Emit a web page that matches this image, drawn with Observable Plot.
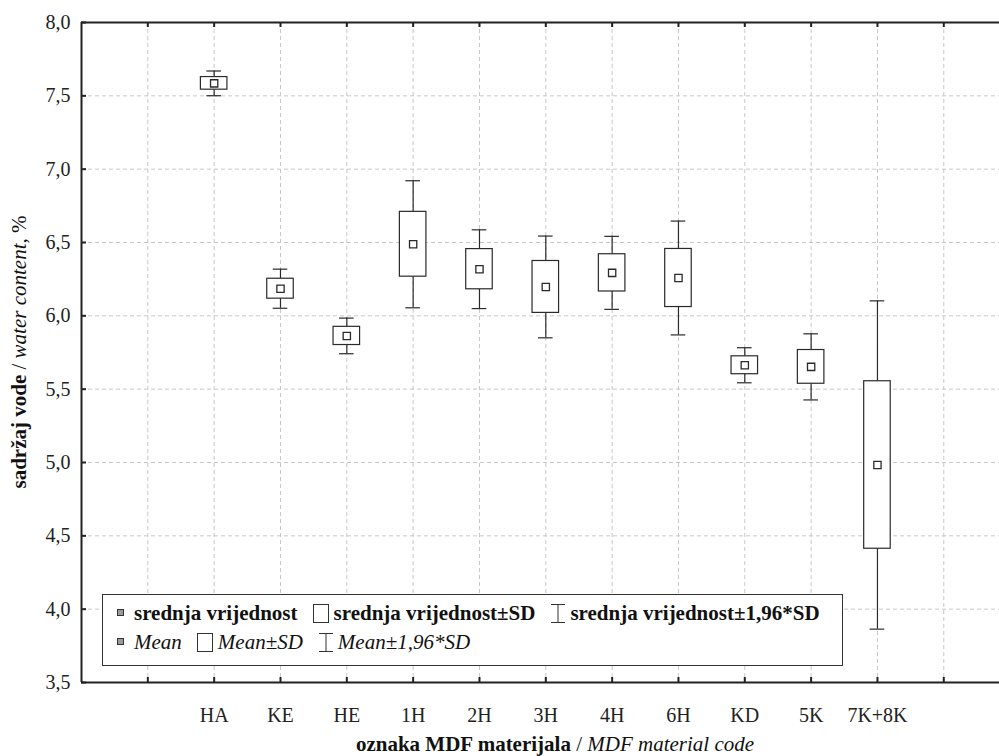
<!DOCTYPE html>
<html><head><meta charset="utf-8">
<script src="https://cdn.jsdelivr.net/npm/d3@7"></script>
<script src="https://cdn.jsdelivr.net/npm/@observablehq/plot@0.6"></script>
<style>
body{margin:0;background:#fff;}
#wrap{position:relative;width:999px;height:756px;font-family:"Liberation Serif","Times New Roman",serif;}
#legend{position:absolute;left:102px;top:594px;width:741px;height:72px;border:1px solid #333;background:#fff;box-sizing:border-box;font-size:21px;color:#111;}
.row{position:absolute;left:13px;display:flex;align-items:center;white-space:nowrap;height:22px;}
.item{display:flex;align-items:center;margin-right:15px;}
.item svg{display:block;margin-right:5px;}
</style></head><body><div id="wrap"></div>
<script>
const categories = ["HA","KE","HE","1H","2H","3H","4H","6H","KD","5K","7K+8K"];
const means = [7.585, 6.185, 5.863, 6.488, 6.318, 6.197, 6.293, 6.258, 5.663, 5.652, 4.983];
const sds   = [0.043, 0.068, 0.062, 0.221, 0.137, 0.177, 0.127, 0.198, 0.061, 0.115, 0.571];
const yTicks = [3.5, 4.0, 4.5, 5.0, 5.5, 6.0, 6.5, 7.0, 7.5, 8.0];
const xTickLabels = ["", "HA","KE","HE","1H","2H","3H","4H","6H","KD","5K","7K+8K", ""];
const legendBold = ["srednja vrijednost", "srednja vrijednost±SD", "srednja vrijednost±1,96*SD"];
const legendItalic = ["Mean", "Mean±SD", "Mean±1,96*SD"];

const xTickPos = xTickLabels.map((_, i) => i + 1);
const rows = categories.map((c, i) => ({
  cat: c, pos: i + 2, mean: means[i],
  lo: means[i] - sds[i], hi: means[i] + sds[i],
  lo96: means[i] - 1.96 * sds[i], hi96: means[i] + 1.96 * sds[i]
}));

const ink = "#2a2a2a";
const grid = "#c8c8c8";

const chart = Plot.plot({
  width: 999, height: 756,
  marginLeft: 81, marginRight: 0, marginTop: 22, marginBottom: 74,
  x: {type: "linear", domain: [0, 13.84]},
  y: {type: "linear", domain: [3.5, 8]},
  style: {fontFamily: '"Liberation Serif","Times New Roman",serif', fontSize: "20px", color: "#222", background: "#fff", overflow: "visible"},
  marks: [
    Plot.ruleY(yTicks.slice(1, -1), {stroke: grid, strokeDasharray: "4,3"}),
    Plot.ruleX(xTickPos, {stroke: grid, strokeDasharray: "4,3"}),
    // whiskers
    Plot.ruleX(rows, {x: "pos", y1: "hi", y2: "hi96", stroke: ink, strokeWidth: 1.2}),
    Plot.ruleX(rows, {x: "pos", y1: "lo", y2: "lo96", stroke: ink, strokeWidth: 1.2}),
    Plot.ruleY(rows, {y: "hi96", x1: d => d.pos - 0.11, x2: d => d.pos + 0.11, stroke: ink, strokeWidth: 1.2}),
    Plot.ruleY(rows, {y: "lo96", x1: d => d.pos - 0.11, x2: d => d.pos + 0.11, stroke: ink, strokeWidth: 1.2}),
    // SD boxes
    Plot.rect(rows, {x1: d => d.pos - 0.2, x2: d => d.pos + 0.2, y1: "lo", y2: "hi", fill: "white", stroke: ink, strokeWidth: 1.2}),
    // means
    Plot.dot(rows, {x: "pos", y: "mean", symbol: "square", r: 4.1, fill: "white", stroke: ink, strokeWidth: 1.3}),
    // frame lines
    Plot.ruleY([3.5, 8], {stroke: "#222", strokeWidth: 2}),
    Plot.ruleX([0], {y1: 3.5, y2: 8, stroke: "#222", strokeWidth: 2}),
    // inward ticks
    Plot.ruleY(yTicks, {x1: 0, x2: 0, insetRight: -5, stroke: "#222", strokeWidth: 2}),
    Plot.ruleX(xTickPos, {y1: 3.5, y2: 3.5, insetTop: -5, stroke: "#222", strokeWidth: 2}),
    Plot.ruleX(xTickPos, {y1: 8, y2: 8, insetBottom: -5, stroke: "#222", strokeWidth: 2}),
    // axes labels
    Plot.axisY({ticks: yTicks, tickSize: 0, tickPadding: 11, tickFormat: d => d.toFixed(1).replace(".", ","), label: null}),
    Plot.axisX({ticks: xTickPos, tickSize: 0, tickPadding: 25, tickFormat: d => xTickLabels[d - 1], label: null})
  ]
});

const svg = d3.select(chart);
const yt = svg.append("text")
  .attr("transform", "translate(26,352) rotate(-90)")
  .attr("text-anchor", "middle").attr("fill", "#111").style("font-size", "21px");
yt.append("tspan").attr("font-weight", "bold").text("sadržaj vode");
yt.append("tspan").text(" / ");
yt.append("tspan").attr("font-style", "italic").text("water content");
yt.append("tspan").text(", %");

const xt = svg.append("text")
  .attr("transform", "translate(555,751)")
  .attr("text-anchor", "middle").attr("fill", "#111").style("font-size", "21px");
xt.append("tspan").attr("font-weight", "bold").text("oznaka MDF materijala");
xt.append("tspan").text(" / ");
xt.append("tspan").attr("font-style", "italic").text("MDF material code");

const wrap = document.getElementById("wrap");
wrap.appendChild(chart);

// legend
const icons = [
  '<svg width="10" height="10"><rect x="1.5" y="1.5" width="6" height="6" fill="#9a9a9a" stroke="#333" stroke-width="1"/></svg>',
  '<svg width="16" height="19"><rect x="0.5" y="0.5" width="15" height="18" fill="white" stroke="#333" stroke-width="1"/></svg>',
  '<svg width="16" height="19"><path d="M1,0.5H15M8,0.5V18.5M1,18.5H15" fill="none" stroke="#333" stroke-width="1"/></svg>'
];
const legend = document.createElement("div");
legend.id = "legend";
function makeRow(texts, top, style) {
  const r = document.createElement("div");
  r.className = "row";
  r.style.top = top + "px";
  texts.forEach((t, i) => {
    const it = document.createElement("div");
    it.className = "item";
    it.innerHTML = icons[i];
    if (i === 0) it.querySelector("svg").style.marginRight = "8px";
    if (i === 2) it.querySelector("svg").style.marginRight = "4px";
    const s = document.createElement("span");
    s.textContent = t;
    Object.assign(s.style, style);
    it.appendChild(s);
    r.appendChild(it);
  });
  legend.appendChild(r);
}
makeRow(legendBold, 7, {fontWeight: "bold"});
makeRow(legendItalic, 36, {fontStyle: "italic"});
wrap.appendChild(legend);
</script>
</body></html>
